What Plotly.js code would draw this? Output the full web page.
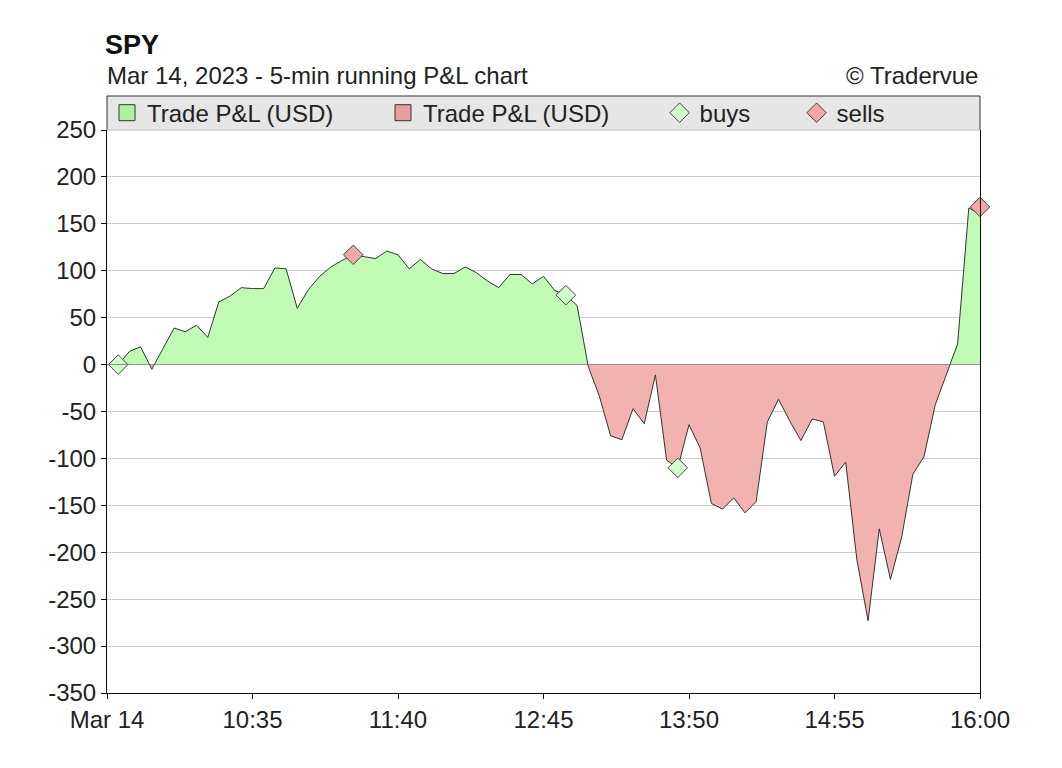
<!DOCTYPE html>
<html>
<head>
<meta charset="utf-8">
<script src="https://cdn.plot.ly/plotly-3.0.1.min.js"></script>
<style>
  html, body { margin: 0; padding: 0; background: #fff; }
  #chart { width: 1062px; height: 768px; }
</style>
</head>
<body>
<div id="chart"></div>
<script>
// 5-min bars for Mar 14, 2023
const day = "2023-03-14 ";
const times = [
  "09:35", "09:40", "09:45", "09:50", "09:55", "10:00", "10:05", "10:10", "10:15", "10:20",
  "10:25", "10:30", "10:35", "10:40", "10:45", "10:50", "10:55", "11:00", "11:05", "11:10",
  "11:15", "11:20", "11:25", "11:30", "11:35", "11:40", "11:45", "11:50", "11:55", "12:00",
  "12:05", "12:10", "12:15", "12:20", "12:25", "12:30", "12:35", "12:40", "12:45", "12:50",
  "12:55", "13:00", "13:05", "13:10", "13:15", "13:20", "13:25", "13:30", "13:35", "13:40",
  "13:45", "13:50", "13:55", "14:00", "14:05", "14:10", "14:15", "14:20", "14:25", "14:30",
  "14:35", "14:40", "14:45", "14:50", "14:55", "15:00", "15:05", "15:10", "15:15", "15:20",
  "15:25", "15:30", "15:35", "15:40", "15:45", "15:50", "15:55", "16:00"
];
const pnl = [
  0, 14, 19, -5, 17, 39, 35, 42, 29, 67,
  73, 82, 81, 81, 103, 102, 60, 80, 94, 104,
  111, 117, 115, 113, 121, 117, 102, 112, 102, 97,
  97, 104, 98, 89, 82, 96, 96, 86, 94, 79,
  74, 63, -2, -34, -76, -80, -47, -63, -11, -102,
  -110, -64, -89, -148, -154, -142, -158, -146, -61, -37,
  -60, -81, -58, -61, -119, -104, -208, -273, -175, -229,
  -184, -117, -98, -43, -10, 22, 167, 160
];

const buyTimes = ["09:35", "12:55", "13:45"];
const buyPnl = [0, 74, -110];
const sellTimes = ["11:20", "16:00"];
const sellPnl = [117, 168];

const tickTimes = ["09:30", "10:35", "11:40", "12:45", "13:50", "14:55", "16:00"];
const tickLabels = ["Mar 14", "10:35", "11:40", "12:45", "13:50", "14:55", "16:00"];
const posTicks = [0, 50, 100, 150, 200, 250];
const posLabels = ["0", "50", "100", "150", "200", "250"];
const negTicks = [-350, -300, -250, -200, -150, -100, -50];
const negLabels = ["-350", "-300", "-250", "-200", "-150", "-100", "-50"];

const seriesName = "Trade P&L (USD)";
const greenFill = "rgb(192,250,180)";
const redFill = "rgb(243,178,178)";
const greenSwatch = "rgb(178,238,166)";
const redSwatch = "rgb(228,160,160)";
const buyColor = "rgb(208,255,204)";
const sellColor = "rgb(242,168,168)";

const toDate = t => day + t;
const x = times.map(toDate);
const font = "Liberation Sans, Arial, sans-serif";

// trade markers go on the subplot that holds their sign, since points
// outside an axis range are hidden when cliponaxis is off
function pick(ts, vs, above) {
    const keep = vs.map(v => above ? v >= 0 : v < 0);
    return {
        x: ts.filter((_, i) => keep[i]).map(toDate),
        y: vs.filter((_, i) => keep[i])
    };
}

function tradeTrace(ts, vs, above, name, color, showlegend) {
    const pts = pick(ts, vs, above);
    return {
        type: "scatter", mode: "markers", x: pts.x, y: pts.y,
        xaxis: "x", yaxis: above ? "y" : "y2", cliponaxis: false,
        name: name, legend: "legend2", legendgroup: name, showlegend: showlegend,
        marker: {symbol: "diamond", size: 15, color: color, line: {color: "#444444", width: 1}}
    };
}

// the same series drawn twice: the upper subplot keeps what is above zero,
// the lower one keeps what is below, each clipped by its own axis range
const traces = [
  {
    type: "scatter", mode: "lines", x: x, y: pnl,
    xaxis: "x", yaxis: "y",
    fill: "tozeroy", fillcolor: greenFill,
    line: {color: "#333333", width: 1},
    showlegend: false, hoverinfo: "skip"
  },
  {
    type: "scatter", mode: "lines", x: x, y: pnl,
    xaxis: "x", yaxis: "y2",
    fill: "tozeroy", fillcolor: redFill,
    line: {color: "#333333", width: 1},
    showlegend: false, hoverinfo: "skip"
  },
  // legend swatches only
  {
    type: "scatter", mode: "markers", x: [null], y: [null],
    xaxis: "x", yaxis: "y2",
    name: seriesName, legend: "legend",
    marker: {symbol: "square", size: 16, color: greenSwatch, line: {color: "#333333", width: 1}}
  },
  {
    type: "scatter", mode: "markers", x: [null], y: [null],
    xaxis: "x", yaxis: "y2",
    name: seriesName, legend: "legend",
    marker: {symbol: "square", size: 16, color: redSwatch, line: {color: "#333333", width: 1}}
  },
  tradeTrace(buyTimes, buyPnl, true, "buys", buyColor, true),
  tradeTrace(buyTimes, buyPnl, false, "buys", buyColor, false),
  tradeTrace(sellTimes, sellPnl, true, "sells", sellColor, true),
  tradeTrace(sellTimes, sellPnl, false, "sells", sellColor, false)
];

const split = 350 / 600;
const yCommon = {
  showgrid: true, gridcolor: "#cccccc", gridwidth: 1,
  zeroline: false,
  showline: true, linecolor: "#111111", linewidth: 1, mirror: true,
  ticks: "outside", ticklen: 5, tickcolor: "#111111",
  tickfont: {family: font, size: 24, color: "#222222"},
  fixedrange: true
};

const layout = {
  width: 1062, height: 768,
  paper_bgcolor: "#ffffff", plot_bgcolor: "#ffffff",
  margin: {l: 107, r: 82, t: 130, b: 75},
  font: {family: font, size: 24, color: "#222222"},
  title: {
    text: "<b>SPY</b>",
    font: {family: font, size: 27, color: "#111111"},
    x: 105 / 1062, xanchor: "left", xref: "container",
    y: 1 - 45 / 768, yanchor: "middle", yref: "container"
  },
  xaxis: {
    type: "date",
    range: [toDate("09:30"), toDate("16:00")],
    anchor: "y2",
    tickvals: tickTimes.map(toDate), ticktext: tickLabels,
    showgrid: false, zeroline: false,
    showline: true, linecolor: "#111111", linewidth: 1,
    ticks: "outside", ticklen: 5, tickcolor: "#111111",
    tickfont: {family: font, size: 24, color: "#222222"},
    fixedrange: true
  },
  yaxis: Object.assign({}, yCommon, {
    domain: [split, 1], range: [0, 250], tickvals: posTicks, ticktext: posLabels, anchor: "x"
  }),
  yaxis2: Object.assign({}, yCommon, {
    domain: [0, split], range: [-350, 0], tickvals: negTicks, ticktext: negLabels, anchor: "x"
  }),
  legend: {
    orientation: "h", x: 0, xanchor: "left", y: 1.03, yanchor: "middle",
    bgcolor: "rgba(0,0,0,0)", entrywidth: 231, entrywidthmode: "pixels",
    font: {family: font, size: 24, color: "#222222"}
  },
  legend2: {
    orientation: "h", x: 0.633, xanchor: "left", y: 1.03, yanchor: "middle",
    bgcolor: "rgba(0,0,0,0)", entrywidth: 92, entrywidthmode: "pixels",
    font: {family: font, size: 24, color: "#222222"}
  },
  shapes: [
    // legend band
    {type: "rect", xref: "paper", yref: "paper", x0: 0, x1: 1, y0: 1, y1: 1.0604,
     fillcolor: "#e6e6e6", line: {width: 0}, layer: "below"},
    {type: "path", xref: "paper", yref: "paper", path: "M0,1 L0,1.0604 L1,1.0604 L1,1",
     line: {color: "#333333", width: 1}},
    {type: "line", xref: "paper", yref: "paper", x0: 0, x1: 1, y0: 1, y1: 1,
     line: {color: "#bbbbbb", width: 1}},
    // zero line
    {type: "line", xref: "paper", yref: "y", x0: 0, x1: 1, y0: 0, y1: 0,
     line: {color: "#333333", width: 1}}
  ],
  annotations: [
    {text: "Mar 14, 2023 - 5-min running P&L chart", xref: "paper", yref: "paper",
     x: -0.002, xanchor: "left", y: 1.096, yanchor: "middle", showarrow: false,
     font: {family: font, size: 24, color: "#222222"}},
    {text: "\u00a9 Tradervue", xref: "paper", yref: "paper",
     x: 1, xanchor: "right", y: 1.096, yanchor: "middle", showarrow: false,
     font: {family: font, size: 24, color: "#222222"}}
  ]
};

Plotly.newPlot("chart", traces, layout, {displayModeBar: false, staticPlot: true});
</script>
</body>
</html>
